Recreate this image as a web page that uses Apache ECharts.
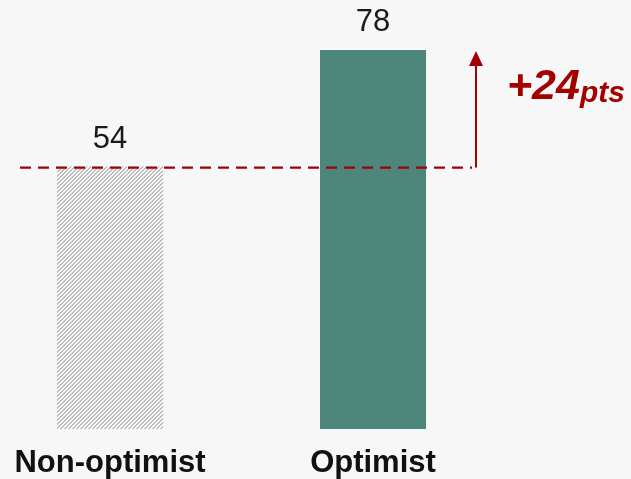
<!DOCTYPE html>
<html><head><meta charset="utf-8">
<script src="https://cdn.jsdelivr.net/npm/echarts@6/dist/echarts.min.js"></script>
<style>html,body{margin:0;padding:0;background:#f7f7f7}#c{width:631px;height:479px}</style>
</head><body><div id="c"></div>
<script>
var categories = ['Non-optimist', 'Optimist'];
var values = [54, 78];
var diffLabel = '+24';
var diffUnit = 'pts';

var pc = document.createElement('canvas');
pc.width = 4; pc.height = 4;
var g = pc.getContext('2d');
for (var px = 0; px < 4; px++) for (var py = 0; py < 4; py++) {
  var k = (px + py) % 4;
  g.fillStyle = (k === 0 || k === 1) ? '#bdbdbd' : '#fcfcfc';
  g.fillRect(px, py, 1, 1);
}

var RED = '#a30000';
var chart = echarts.init(document.getElementById('c'));
chart.setOption({
  backgroundColor: '#f7f7f7',
  animation: false,
  grid: {left: 110, width: 263, top: 50, bottom: 49},
  xAxis: {type: 'category', data: categories, boundaryGap: false, axisLine: {show: false}, axisTick: {show: false},
    axisLabel: {fontFamily: 'Liberation Sans', fontWeight: 'bold', fontSize: 31, color: '#111', margin: 19}},
  yAxis: {type: 'value', min: 0, max: 78, show: false},
  series: [{type: 'bar', barWidth: 106, clip: false,
    data: values.map(function(v, i){
      return {value: v, itemStyle: {color: i === 0 ? {image: pc, repeat: 'repeat'} : '#4d867b'}};
    }),
    label: {show: true, position: 'top', distance: 12, fontFamily: 'Liberation Sans', fontSize: 31, color: '#1a1a1a'}
  }]
});

var p0 = chart.convertToPixel({seriesIndex: 0}, [0, values[0]]);
var p1 = chart.convertToPixel({seriesIndex: 0}, [1, values[1]]);
var ax = 476;
chart.setOption({graphic: [
  {type: 'line', shape: {x1: 20, y1: p0[1] + 1, x2: 472, y2: p0[1] + 1}, style: {stroke: RED, lineWidth: 2.2, lineDash: [11, 7]}, z: 10},
  {type: 'line', shape: {x1: ax, y1: p0[1] + 1, x2: ax, y2: p1[1] + 14}, style: {stroke: RED, lineWidth: 2}, z: 10},
  {type: 'polygon', shape: {points: [[ax - 7, p1[1] + 16], [ax + 7, p1[1] + 16], [ax, p1[1] + 1]]}, style: {fill: RED}, z: 10},
  {type: 'text', left: 507, top: 66, style: {
    text: '{a|' + diffLabel + '}{b|' + diffUnit + '}',
    rich: {
      a: {fontFamily: 'Liberation Sans', fontWeight: 'bold', fontStyle: 'italic', fontSize: 43, fill: RED, verticalAlign: 'bottom'},
      b: {fontFamily: 'Liberation Sans', fontWeight: 'bold', fontStyle: 'italic', fontSize: 30, fill: RED, verticalAlign: 'bottom'}
    }}, z: 10}
]});
</script></body></html>
